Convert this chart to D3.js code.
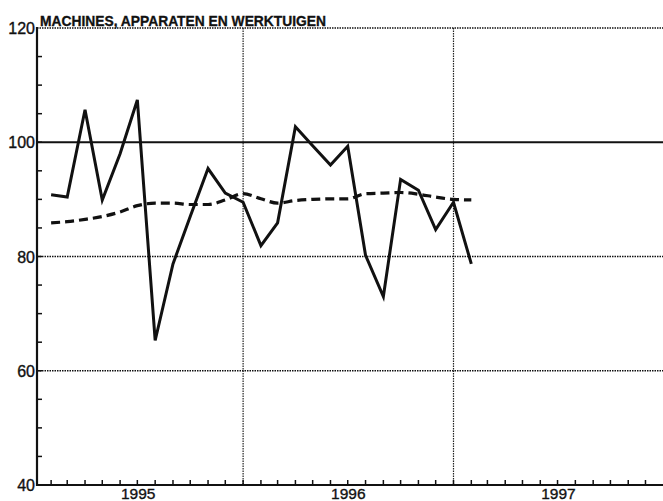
<!DOCTYPE html>
<html>
<head>
<meta charset="utf-8">
<script src="https://cdn.jsdelivr.net/npm/d3@7"></script>
<style>
  body { margin: 0; background: #fff; }
  text { font-family: "Liberation Sans", Arial, sans-serif; fill: #111; stroke: #111; stroke-width: 0.35px; }
</style>
</head>
<body>
<div id="chart"></div>
<script>
// chart data (monthly)
const months = ["1995-02","1995-03","1995-04","1995-05","1995-06","1995-07","1995-08","1995-09",
  "1995-10","1995-11","1995-12","1996-01","1996-02","1996-03","1996-04","1996-05","1996-06",
  "1996-07","1996-08","1996-09","1996-10","1996-11","1996-12","1997-01","1997-02"];
const actual = [90.8, 90.4, 105.7, 89.9, 98.0, 107.4, 65.3, 78.7, 87.0, 95.4, 91.1, 89.5,
  81.9, 85.9, 102.7, 99.4, 96.0, 99.3, 80.2, 73.0, 93.5, 91.6, 84.7, 89.5, 78.7];
const trend = [85.9, 86.1, 86.5, 87.0, 87.8, 88.9, 89.35, 89.35, 89.1, 89.1, 89.9, 91.0,
  90.1, 89.35, 89.8, 90.0, 90.1, 90.1, 91.0, 91.1, 91.2, 90.9, 90.4, 90.0, 89.9];
const yTicks = [40, 60, 80, 100, 120];
const years = ["1995", "1996", "1997"];
const title = "MACHINES, APPARATEN EN WERKTUIGEN";

const W = 663, H = 501;
const m = { left: 37, top: 28, bottom: 485, right: 663 };

var parseMonth = d3.timeParse("%Y-%m");
var data = months.map((mo, i) => ({ date: parseMonth(mo), a: actual[i], t: trend[i] }));

const svg = d3.select("#chart").append("svg")
  .attr("width", W).attr("height", H);

const x = d3.scaleTime()
  .domain([new Date(1995, 0, 1), new Date(1998, 0, 1)])
  .range([33.3, 663.3]);
const y = d3.scaleLinear().domain([40, 120]).range([m.bottom, m.top]);

// horizontal grid
yTicks.filter(v => v > 40).forEach(v => {
  svg.append("line")
    .attr("x1", m.left).attr("x2", m.right)
    .attr("y1", y(v)).attr("y2", y(v))
    .attr("stroke", "#111")
    .attr("stroke-width", v == 100 ? 1.8 : 1.4)
    .attr("stroke-dasharray", v == 100 ? null : "1.5,1");
});

// vertical year lines
[new Date(1996, 0, 1), new Date(1997, 0, 1)].forEach(d => {
  svg.append("line")
    .attr("x1", x(d)).attr("x2", x(d))
    .attr("y1", m.top).attr("y2", m.bottom)
    .attr("stroke", "#222").attr("stroke-width", 1.2)
    .attr("stroke-dasharray", "1.5,1");
});

// month ticks (inward)
d3.timeMonth.range(new Date(1995, 1, 1), new Date(1998, 0, 1)).forEach(d => {
  svg.append("line")
    .attr("x1", x(d)).attr("x2", x(d))
    .attr("y1", m.bottom).attr("y2", m.bottom - 5)
    .attr("stroke", "#111").attr("stroke-width", 1.5);
});

// y minor ticks every 5
d3.range(45, 120, 5).forEach(v => {
  svg.append("line")
    .attr("x1", m.left).attr("x2", m.left + 5)
    .attr("y1", y(v)).attr("y2", y(v))
    .attr("stroke", "#111").attr("stroke-width", 1.5);
});

// axes lines
svg.append("line").attr("x1", m.left).attr("x2", m.left).attr("y1", m.top - 1).attr("y2", m.bottom + 1)
  .attr("stroke", "#111").attr("stroke-width", 2.2);
svg.append("line").attr("x1", m.left - 1).attr("x2", m.right).attr("y1", m.bottom).attr("y2", m.bottom)
  .attr("stroke", "#111").attr("stroke-width", 2.2);

// y labels
svg.selectAll(".ylab").data(yTicks).join("text")
  .attr("x", 35).attr("y", d => y(d) + 6)
  .attr("text-anchor", "end")
  .attr("font-size", 16)
  .text(d => d);

// year labels
svg.selectAll(".year").data(years).join("text")
  .attr("x", d => (x(new Date(+d, 0, 1)) + x(new Date(+d + 1, 0, 1))) / 2)
  .attr("y", 499)
  .attr("text-anchor", "middle")
  .attr("font-size", 15.5)
  .text(d => d);

// title
svg.append("text")
  .attr("x", 40).attr("y", 26)
  .attr("font-size", 15.5).attr("font-weight", "bold")
  .attr("textLength", 286).attr("lengthAdjust", "spacingAndGlyphs")
  .text(title);

// trend (dashed)
svg.append("path")
  .datum(data)
  .attr("fill", "none")
  .attr("stroke", "#111")
  .attr("stroke-width", 3.2)
  .attr("stroke-dasharray", "9,5")
  .attr("d", d3.line().curve(d3.curveMonotoneX).x(d => x(d.date)).y(d => y(d.t)));

// actual (solid)
svg.append("path")
  .datum(data)
  .attr("fill", "none")
  .attr("stroke", "#111")
  .attr("stroke-width", 3)
  .attr("stroke-linejoin", "miter")
  .attr("d", d3.line().x(d => x(d.date)).y(d => y(d.a)));
</script>
</body>
</html>
